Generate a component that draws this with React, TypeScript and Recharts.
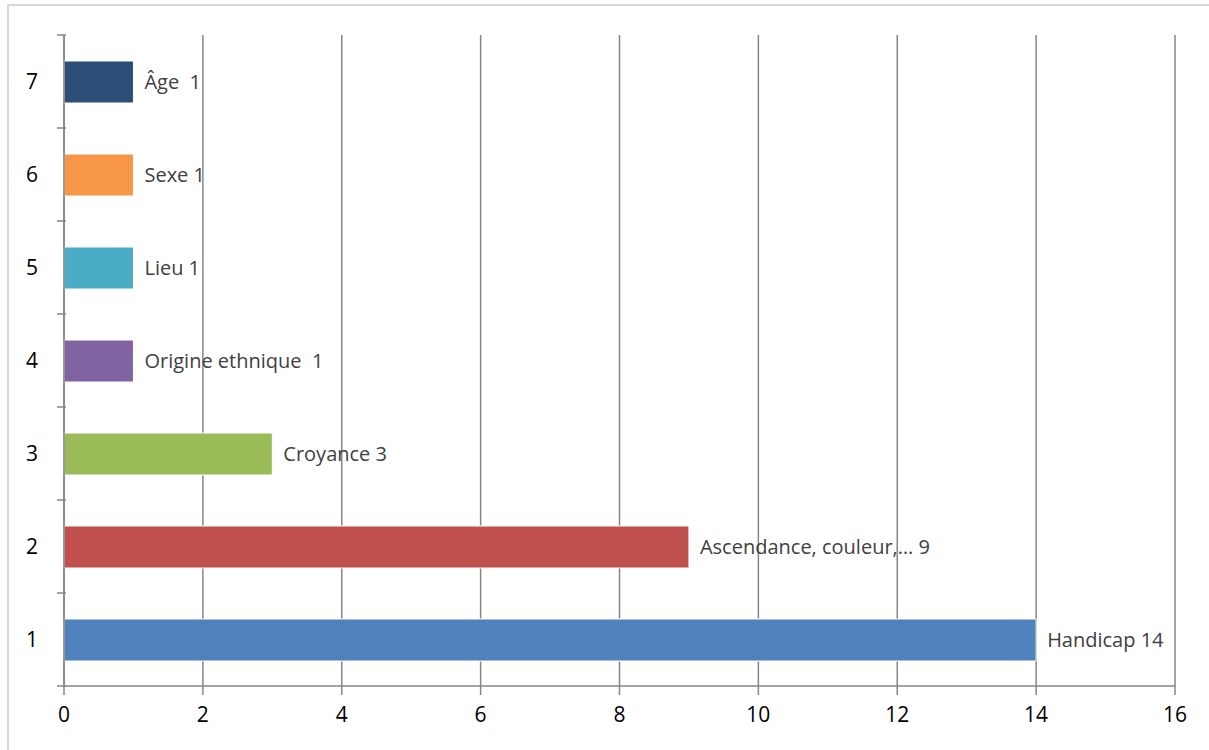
import React from "react";
import {
  BarChart,
  Bar,
  XAxis,
  YAxis,
  CartesianGrid,
  Cell,
  LabelList,
} from "recharts";

// Categories as printed on the vertical axis (1 at bottom)
const categories = ["1", "2", "3", "4", "5", "6", "7"];
const values = [14, 9, 3, 1, 1, 1, 1];
const labels = [
  "Handicap 14",
  "Ascendance, couleur,\u2026 9",
  "Croyance 3",
  "Origine ethnique  1",
  "Lieu 1",
  "Sexe 1",
  "\u00c2ge  1",
];
const colors = ["#4f81bd", "#c0504d", "#9bbb59", "#8064a2", "#4bacc6", "#f79646", "#2c4d75"];
const xTicks = [0, 2, 4, 6, 8, 10, 12, 14, 16];

const data = categories.map((c, i) => ({ cat: c, value: values[i], label: labels[i] }));

const FONT = "'Open Sans', 'Liberation Sans', sans-serif";
const AXIS = "#868686";
const HALF_BAND = 46.5;

const YTick = (props: any) => {
  const { x, y, payload, index } = props;
  return (
    <g>
      <line x1={x + 1} x2={x + 10} y1={y - HALF_BAND} y2={y - HALF_BAND} stroke={AXIS} strokeWidth={1.5} />
      {index === 0 && (
        <line x1={x + 1} x2={x + 10} y1={y + HALF_BAND} y2={y + HALF_BAND} stroke={AXIS} strokeWidth={1.5} />
      )}
      <text x={x - 18} y={y} dy="0.35em" textAnchor="end" fill="#000" fontSize={21} fontFamily={FONT}>
        {payload.value}
      </text>
    </g>
  );
};

const BarLabel = (props: any) => {
  const { x, y, width, height, index } = props;
  return (
    <text
      x={x + width + 11}
      y={y + height / 2}
      dy="0.35em"
      fill="#404040"
      fontSize={20}
      fontFamily={FONT}
      style={{ whiteSpace: "pre" }}
    >
      {labels[index]}
    </text>
  );
};

export default function App() {
  return (
    <div style={{ position: "absolute", left: 0, top: 0, width: 1209, height: 750, background: "#fff" }}>
      <div
        style={{
          position: "absolute",
          left: 7,
          top: 4,
          width: 1210,
          height: 760,
          border: "2px solid #d9d9d9",
          boxSizing: "border-box",
        }}
      />
      <div style={{ position: "absolute", left: 0, top: 0 }}>
        <BarChart
          width={1209}
          height={750}
          data={data}
          layout="vertical"
          margin={{ top: 35, right: 34, bottom: 0, left: 10 }}
          barSize={42}
        >
          <CartesianGrid horizontal={false} stroke={AXIS} strokeWidth={1.5} />
          <XAxis
            type="number"
            domain={[0, 16]}
            ticks={xTicks}
            interval={0}
            axisLine={{ stroke: AXIS, strokeWidth: 1.5 }}
            tickLine={{ stroke: AXIS, strokeWidth: 1.5 }}
            tickSize={9}
            tickMargin={12}
            height={64}
            tick={{ fill: "#000", fontSize: 21, fontFamily: FONT }}
          />
          <YAxis
            type="category"
            dataKey="cat"
            reversed
            width={54}
            axisLine={{ stroke: AXIS, strokeWidth: 1.5 }}
            tickLine={false}
            tick={<YTick />}
          />
          <Bar dataKey="value" isAnimationActive={false} stroke="#fff" strokeWidth={1}>
            {data.map((d, i) => (
              <Cell key={d.cat} fill={colors[i]} />
            ))}
            <LabelList dataKey="label" content={<BarLabel />} />
          </Bar>
        </BarChart>
      </div>
    </div>
  );
}
